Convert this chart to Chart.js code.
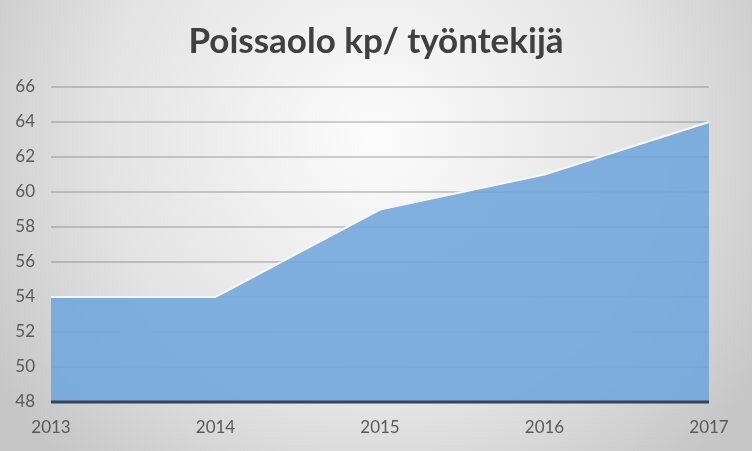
<!DOCTYPE html>
<html>
<head>
<meta charset="utf-8">
<script src="https://cdn.jsdelivr.net/npm/chart.js@4.4.0/dist/chart.umd.min.js"></script>
<style>
  html, body { margin: 0; padding: 0; background: #fff; }
  #wrap { width: 752px; height: 451px; }
</style>
</head>
<body>
<div id="wrap"><canvas id="chart"></canvas></div>
<script>
const years = ['2013', '2014', '2015', '2016', '2017'];
const absenceDays = [54, 54, 59, 61, 64];
const yMin = 48;
const yMax = 66;
const yStep = 2;
const chartTitle = 'Poissaolo kp/ työntekijä';

// gray radial background like the office chart
const backgroundPlugin = {
  id: 'bg',
  beforeDraw(chart) {
    const { ctx, width, height } = chart;
    ctx.save();
    const g = ctx.createRadialGradient(width / 2, height * 0.3, 10, width / 2, height * 0.3, width * 0.6);
    g.addColorStop(0, '#fbfbfb');
    g.addColorStop(0.6, '#e3e3e3');
    g.addColorStop(1, '#c6c6c6');
    ctx.fillStyle = g;
    ctx.fillRect(0, 0, width, height);
    ctx.restore();
  }
};

// title centred on the whole canvas, not on the padded box
const titlePlugin = {
  id: 'centerTitle',
  afterDraw(chart) {
    const { ctx, width } = chart;
    ctx.save();
    ctx.fillStyle = '#404040';
    ctx.font = 'bold 35px Lato';
    ctx.textAlign = 'center';
    ctx.textBaseline = 'alphabetic';
    ctx.fillText(chartTitle, width / 2, 53);
    ctx.restore();
  }
};

// dark base line at the bottom of the plot
const baseLinePlugin = {
  id: 'baseLine',
  afterDatasetsDraw(chart) {
    const { ctx, chartArea } = chart;
    ctx.save();
    ctx.strokeStyle = '#3b4350';
    ctx.lineWidth = 3;
    ctx.beginPath();
    ctx.moveTo(chartArea.left, chartArea.bottom);
    ctx.lineTo(chartArea.right, chartArea.bottom);
    ctx.stroke();
    ctx.restore();
  }
};

const ctx = document.getElementById('chart').getContext('2d');
new Chart(ctx, {
  type: 'line',
  data: {
    labels: years,
    datasets: [
      {
        label: chartTitle,
        data: absenceDays,
        fill: 'start',
        backgroundColor: 'rgba(110, 166, 220, 0.88)',
        borderColor: '#f2f7fc',
        borderWidth: 2,
        pointRadius: 0,
        tension: 0,
      },
    ],
  },
  options: {
    responsive: true,
    maintainAspectRatio: false,
    animation: false,
    layout: { padding: { left: 0, right: 43, top: 87, bottom: 0 } },
    plugins: {
      legend: { display: false },
      tooltip: { enabled: false },
      title: { display: false },
    },
    scales: {
      x: {
        grid: { display: false },
        border: { display: false },
        afterFit(scale) { scale.height = 49; },
        ticks: {
          color: '#595959',
          font: { family: 'Lato', size: 17 },
          padding: 7,
          maxRotation: 0,
        },
      },
      y: {
        min: yMin,
        max: yMax,
        border: { display: false },
        afterFit(scale) { scale.width = 51; },
        grid: {
          color: 'rgba(110, 110, 110, 0.32)',
          lineWidth: 2,
          drawTicks: false,
        },
        ticks: {
          stepSize: yStep,
          color: '#595959',
          font: { family: 'Lato', size: 17 },
          padding: 16,
        },
      },
    },
  },
  plugins: [backgroundPlugin, baseLinePlugin, titlePlugin],
});
</script>
</body>
</html>
